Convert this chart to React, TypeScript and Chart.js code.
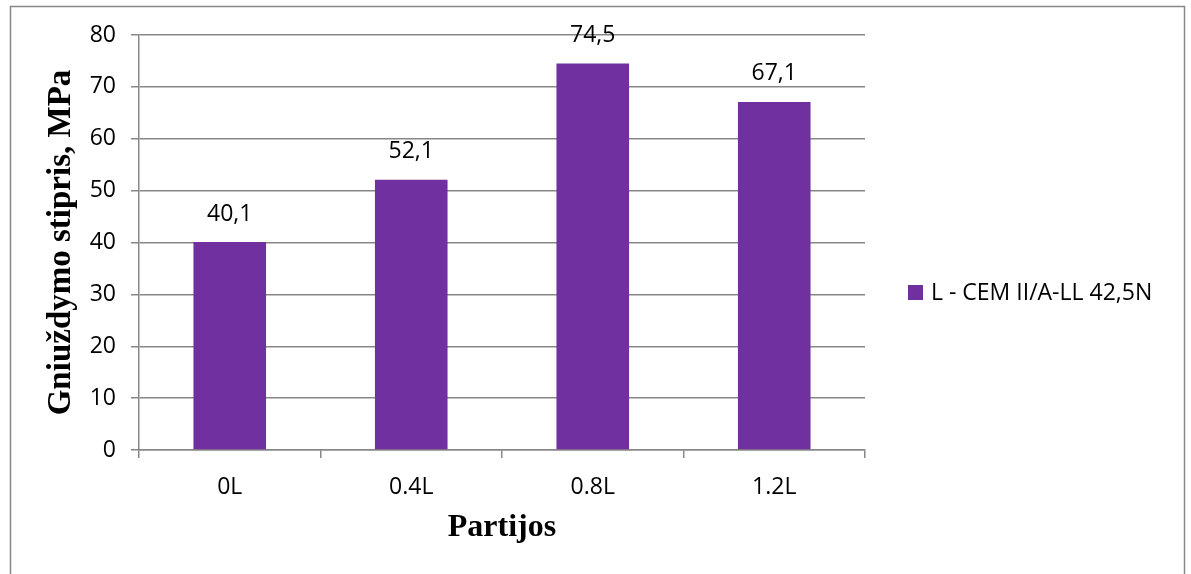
import React, { useEffect, useRef } from "react";
import { Chart, registerables } from "chart.js";

Chart.register(...registerables);

const categories = ["0L", "0.4L", "0.8L", "1.2L"];
const strengthValues = [40.1, 52.1, 74.5, 67.1];
const seriesLabel = "L - CEM II/A-LL 42,5N";
const yTitle = "Gniuždymo stipris, MPa";
const xTitle = "Partijos";
const yMin = 0;
const yMax = 80;
const yStep = 10;

const BAR_COLOR = "#7030A0";
const GRID_COLOR = "#878787";
const SANS = "'Open Sans', sans-serif";
const SERIF = "'Liberation Serif', 'Times New Roman', serif";
const TEXT_SIZE = 23;

const fmt = (v: number) => v.toFixed(1).replace(".", ",");

// Frame around the whole chart
const framePlugin = {
  id: "frame",
  beforeDraw(chart: any) {
    const { ctx } = chart;
    ctx.save();
    ctx.strokeStyle = GRID_COLOR;
    ctx.lineWidth = 1.5;
    ctx.strokeRect(10.5, 6.5, 1174, 620);
    ctx.restore();
  },
};

// Value labels above each bar
const valueLabelPlugin = {
  id: "valueLabels",
  afterDatasetsDraw(chart: any) {
    const { ctx } = chart;
    const meta = chart.getDatasetMeta(0);
    const data = chart.data.datasets[0].data as number[];
    ctx.save();
    ctx.font = `${TEXT_SIZE}px ${SANS}`;
    ctx.fillStyle = "#000";
    ctx.textAlign = "center";
    ctx.textBaseline = "middle";
    meta.data.forEach((bar: any, i: number) => {
      ctx.fillText(fmt(data[i]), bar.x, bar.y - 28);
    });
    ctx.restore();
  },
};

// Legend entry to the right of the plot
const sideLegendPlugin = {
  id: "sideLegend",
  afterDraw(chart: any) {
    const { ctx } = chart;
    const ds = chart.data.datasets[0];
    const x = 908;
    const y = 292;
    ctx.save();
    ctx.fillStyle = ds.backgroundColor;
    ctx.fillRect(x, y - 7, 15, 15);
    ctx.font = `${TEXT_SIZE}px ${SANS}`;
    ctx.fillStyle = "#000";
    ctx.textAlign = "left";
    ctx.textBaseline = "middle";
    ctx.fillText(ds.label, x + 23, y + 1);
    ctx.restore();
  },
};

export default function App() {
  const canvasRef = useRef<HTMLCanvasElement | null>(null);

  useEffect(() => {
    if (!canvasRef.current) return;
    const chart = new Chart(canvasRef.current, {
      type: "bar",
      data: {
        labels: categories,
        datasets: [
          {
            label: seriesLabel,
            data: strengthValues,
            backgroundColor: BAR_COLOR,
            borderWidth: 0,
            barPercentage: 0.4,
            categoryPercentage: 1,
          },
        ],
      },
      options: {
        animation: false,
        responsive: true,
        maintainAspectRatio: false,
        layout: { padding: { left: 0, top: 35, right: 326, bottom: 0 } },
        plugins: {
          legend: { display: false },
          tooltip: { enabled: false },
        },
        scales: {
          x: {
            offset: true,
            grid: {
              offset: true,
              drawOnChartArea: false,
              drawTicks: true,
              tickLength: 8,
              color: GRID_COLOR,
              lineWidth: 1.5,
            },
            border: { color: GRID_COLOR, width: 1.5 },
            ticks: { color: "#000", font: { family: SANS, size: TEXT_SIZE }, padding: 16 },
            title: {
              display: true,
              text: xTitle,
              color: "#000",
              font: { family: SERIF, size: 32, weight: "bold" },
              padding: { top: 0, bottom: 27 },
            },
            afterFit(scale: any) {
              scale.height = 124;
            },
          },
          y: {
            min: yMin,
            max: yMax,
            ticks: {
              stepSize: yStep,
              color: "#000",
              font: { family: SANS, size: TEXT_SIZE },
              padding: 15,
            },
            grid: {
              color: GRID_COLOR,
              lineWidth: 1.5,
              tickLength: 8,
            },
            border: { color: GRID_COLOR, width: 1.5 },
            title: {
              display: true,
              text: yTitle,
              color: "#000",
              font: { family: SERIF, size: 33, weight: "bold" },
              padding: { top: 42, bottom: 0 },
            },
            afterFit(scale: any) {
              scale.width = 139;
            },
          },
        },
      },
      plugins: [framePlugin, valueLabelPlugin, sideLegendPlugin],
    });
    return () => chart.destroy();
  }, []);

  return (
    <div style={{ position: "absolute", left: 0, top: 0, width: 1191, height: 574, background: "#fff" }}>
      <canvas ref={canvasRef} />
    </div>
  );
}
